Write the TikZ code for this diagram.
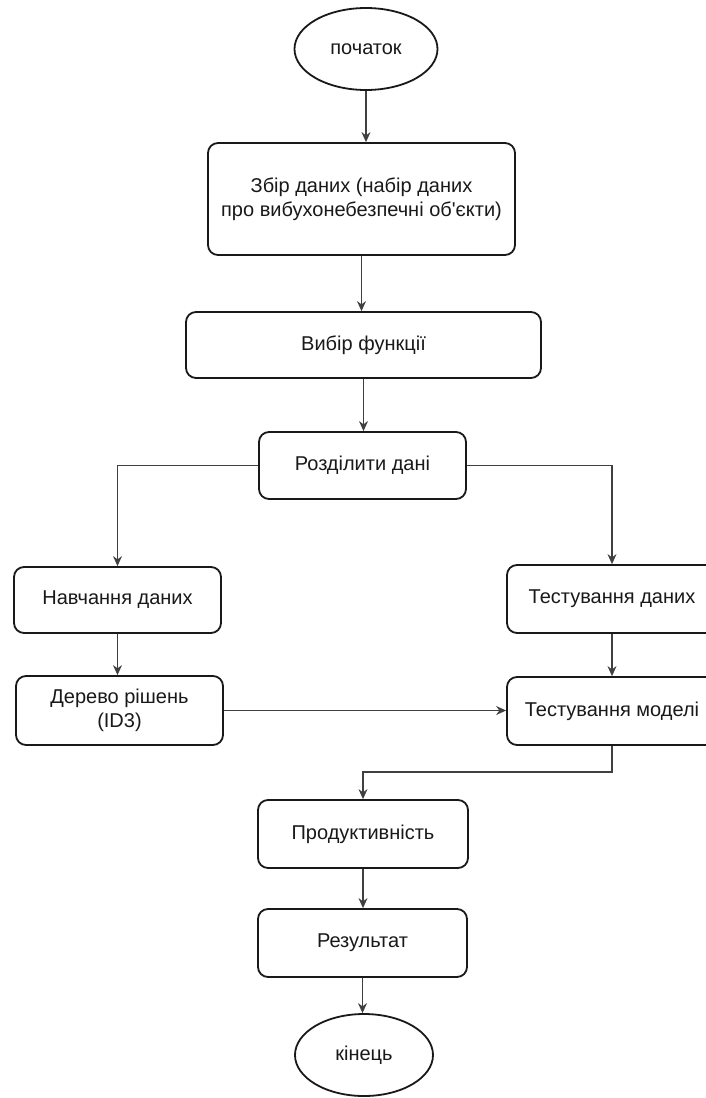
\documentclass[tikz,border=0pt]{standalone}
\usepackage{fontspec}
\setmainfont{Liberation Sans}
\usetikzlibrary{shapes.geometric,arrows.meta}
\begin{document}
\begin{tikzpicture}[x=1pt,y=1pt,
  every node/.style={font=\fontsize{20}{24}\selectfont, text=black!90, inner sep=0pt, align=center},
  stepbox/.style={draw=black!90, line width=1.8pt, rounded corners=10pt, fill=white},
  termbox/.style={draw=black!90, line width=1.8pt, ellipse, fill=white},
  conn/.style={draw=black!75, line width=1.1pt, -{Stealth[length=10pt,width=9pt]}}
]
\useasboundingbox (0,0) rectangle (705,-1098);
\fill[white] (0,0) rectangle (705,-1098);

\node[termbox, minimum width=143, minimum height=82] (start) at (366,-49) {початок};
\node[stepbox, minimum width=307, minimum height=112] (b1) at (361.5,-199) {Збір даних (набір даних\\про вибухонебезпечні об\textquotesingle єкти)};
\node[stepbox, minimum width=355, minimum height=66] (b2) at (363.5,-345) {Вибір функції};
\node[stepbox, minimum width=207, minimum height=67] (b3) at (362.5,-465.5) {Розділити дані};
\node[stepbox, minimum width=207, minimum height=66] (b4) at (117.5,-600) {Навчання даних};
\node[stepbox, minimum width=210, minimum height=68] (b5) at (612,-599) {Тестування даних};
\node[stepbox, minimum width=207, minimum height=69] (b6) at (119.5,-710.5) {Дерево рішень\\(ID3)};
\node[stepbox, minimum width=210, minimum height=68] (b7) at (612,-711) {Тестування моделі};
\node[stepbox, minimum width=210, minimum height=68] (b8) at (363,-834) {Продуктивність};
\node[stepbox, minimum width=209, minimum height=68] (b9) at (362.5,-943) {Результат};
\node[termbox, minimum width=138, minimum height=82] (end) at (364,-1055) {кінець};

\coordinate (t1) at (363,-772);

\draw[conn] (start.south) -- (start.south |- b1.north);
\draw[conn] (b1.south) -- (b1.south |- b2.north);
\draw[conn] (b2.south) -- (b2.south |- b3.north);
\draw[conn] (b3.west) -| (b4.north);
\draw[conn] (b3.east) -| (b5.north);
\draw[conn] (b4.south) -- (b4.south |- b6.north);
\draw[conn] (b5.south) -- (b5.south |- b7.north);
\draw[conn] (b6.east) -- (b6.east -| b7.west);
\draw[conn] (b7.south) |- (t1) -- (b8.north);
\draw[conn] (b8.south) -- (b8.south |- b9.north);
\draw[conn] (b9.south) -- (b9.south |- end.north);
\end{tikzpicture}
\end{document}
